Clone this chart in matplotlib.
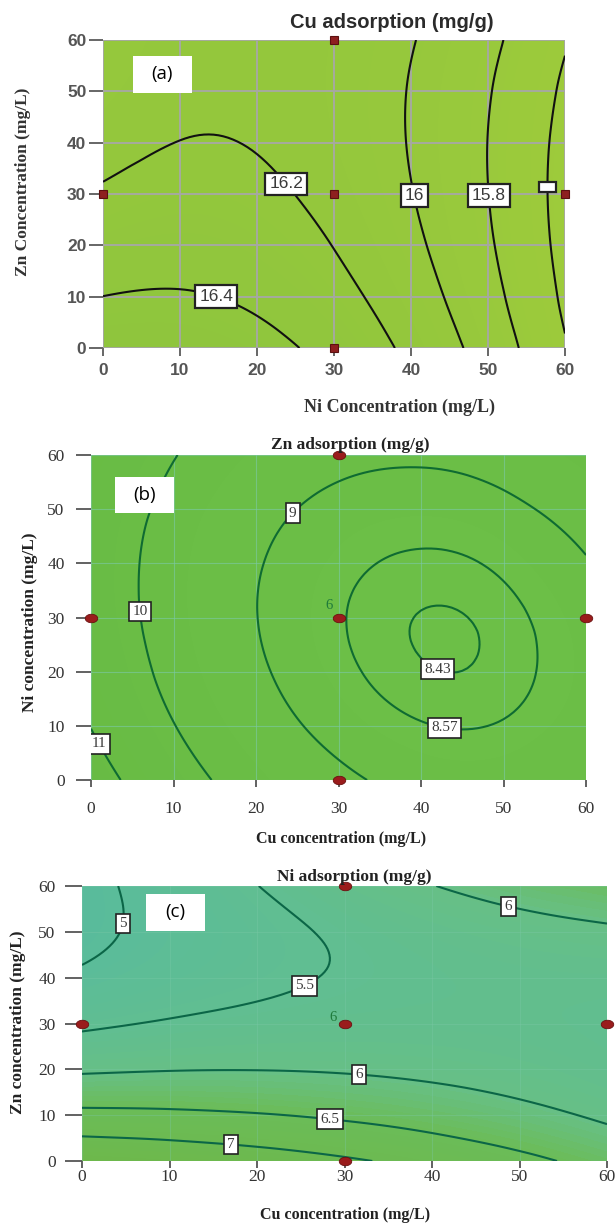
import numpy as np
import matplotlib
matplotlib.use("Agg")
import matplotlib.pyplot as plt
import matplotlib.tri as mtri
from matplotlib.colors import LinearSegmentedColormap
from matplotlib.path import Path
from matplotlib.patches import Rectangle

# ---- response-surface values on the 0..60 mg/L design grid (rows: y = 60 -> 0) ----
conc = [0, 10, 20, 30, 40, 50, 60]
ticks = [0, 10, 20, 30, 40, 50, 60]

cu_adsorption = [
    [16.071, 16.146, 16.161, 16.115, 16.009, 15.842, 15.614],
    [16.102, 16.166, 16.168, 16.110, 15.991, 15.811, 15.571],
    [16.151, 16.202, 16.192, 16.121, 15.990, 15.798, 15.545],
    [16.217, 16.255, 16.233, 16.150, 16.006, 15.802, 15.536],
    [16.300, 16.326, 16.291, 16.196, 16.039, 15.822, 15.545],
    [16.401, 16.414, 16.367, 16.259, 16.090, 15.860, 15.570],
    [16.518, 16.519, 16.459, 16.339, 16.157, 15.916, 15.613],
]
zn_adsorption = [
    [10.832, 10.034, 9.477, 9.161, 9.085, 9.251, 9.657],
    [10.620, 9.790, 9.200, 8.852, 8.744, 8.877, 9.251],
    [10.529, 9.667, 9.045, 8.664, 8.524, 8.625, 8.966],
    [10.560, 9.664, 9.010, 8.597, 8.424, 8.493, 8.802],
    [10.710, 9.783, 9.096, 8.651, 8.446, 8.482, 8.759],
    [10.982, 10.022, 9.303, 8.825, 8.588, 8.592, 8.836],
    [11.375, 10.382, 9.631, 9.120, 8.851, 8.822, 8.985],
]
ni_adsorption = [
    [4.862, 5.195, 5.494, 5.759, 5.990, 6.187, 6.349],
    [4.883, 5.144, 5.370, 5.563, 5.721, 5.845, 5.935],
    [5.070, 5.258, 5.412, 5.532, 5.617, 5.669, 5.686],
    [5.422, 5.538, 5.619, 5.666, 5.679, 5.657, 5.602],
    [5.940, 5.982, 5.991, 5.965, 5.906, 5.812, 5.683],
    [6.622, 6.592, 6.528, 6.430, 6.298, 6.131, 5.930],
    [7.470, 7.367, 7.231, 7.060, 6.855, 6.616, 6.342],
]

cu_levels = [15.6, 15.8, 16.0, 16.2, 16.4]
cu_labels = {15.6: "       ", 15.8: "15.8", 16.0: "16", 16.2: "16.2", 16.4: "16.4"}
zn_levels = [8.43, 8.57, 9, 10, 11]
zn_labels = {8.43: "8.43", 8.57: "8.57", 9: "9", 10: "10", 11: "11"}
ni_levels = [5, 5.5, 6, 6.5, 7]
ni_labels = {5: "5", 5.5: "5.5", 6: "6", 6.5: "6.5", 7: "7"}

# design points (face-centred design) and centre-point replicate count
design_x = [0, 30, 60, 30, 30]
design_y = [30, 30, 30, 0, 60]
centre_runs = "6"

W, H = 615, 1224
fig = plt.figure(figsize=(W / 100, H / 100), dpi=100)


def px_axes(left, top, right, bottom):
    return fig.add_axes([left / W, 1 - bottom / H, (right - left) / W, (bottom - top) / H])


def ftext(x, y, s, **kw):
    fig.text(x / W, 1 - y / H, s, ha="center", va="center", **kw)


def panel_tag(left, top, right, bottom, tag):
    fig.add_artist(Rectangle((left / W, 1 - bottom / H), (right - left) / W, (bottom - top) / H,
                             transform=fig.transFigure, facecolor="white", edgecolor="none", zorder=10))
    fig.text((left + right) / 2 / W, 1 - (top + bottom) / 2 / H, tag, ha="center", va="center",
             family="Open Sans", fontsize=13.5, color="black", zorder=11)


def refined(table):
    gx, gy = np.meshgrid(np.array(conc, float), np.array(conc[::-1], float))
    z = np.array(table, float)
    tri = mtri.Triangulation(gx.ravel(), gy.ravel())
    return mtri.UniformTriRefiner(tri).refine_field(z.ravel(), subdiv=4)


ellipse = Path(np.column_stack([np.cos(np.linspace(0, 2 * np.pi, 40)),
                                0.68 * np.sin(np.linspace(0, 2 * np.pi, 40))]))


def draw_panel(ax, table, levels, labels, cmap, line_color, lw, manual, label_font, box_lw,
               label_size, fill_range):
    tri_f, z_f = refined(table)
    ax.set_xlim(0, 60)
    ax.set_ylim(0, 60)
    ax.tricontourf(tri_f, z_f, levels=np.linspace(fill_range[0], fill_range[1], 40),
                   cmap=cmap, extend="both")
    cs = ax.tricontour(tri_f, z_f, levels=levels, colors=line_color, linewidths=lw)
    texts = ax.clabel(cs, levels, inline=False, fmt=labels, manual=manual,
                      fontsize=label_size, colors="#3a3a3a")
    for t in texts:
        t.set_rotation(0)
        t.set_family(label_font)
        t.set_bbox(dict(boxstyle="square,pad=0.22", facecolor="white",
                        edgecolor="#222222", linewidth=box_lw))
        t.set_zorder(6)
    for sp in ax.spines.values():
        sp.set_visible(False)
    ax.set_xticks(ticks)
    ax.set_yticks(ticks)
    return texts


# ---------------- (a) Cu adsorption ----------------
cmap_a = LinearSegmentedColormap.from_list("cu", ["#9ecb3b", "#96c83c", "#8ec53d"])
ax_a = px_axes(103, 40, 565, 348)
texts_a = draw_panel(ax_a, cu_adsorption, cu_levels, cu_labels, cmap_a, "#111111", 1.5,
                     [(14.8, 10.5), (23.8, 32), (39.5, 29.4), (50.5, 29.8), (57.6, 31.3)],
                     "Liberation Sans", 1.6, 12.5, (15.5, 16.55))
for t in texts_a:
    if t.get_text().strip() == "":
        t.set_fontsize(5)
ax_a.grid(True, color="#a7a7a7", linewidth=1.3)
ax_a.tick_params(axis="both", colors="#666666", width=1.4, labelcolor="#555555")
ax_a.tick_params(axis="y", length=10, pad=2)
ax_a.tick_params(axis="x", length=6, pad=5)
for lab in ax_a.get_xticklabels() + ax_a.get_yticklabels():
    lab.set_family("Liberation Sans")
    lab.set_fontweight("bold")
    lab.set_fontsize(12.5)
ax_a.plot(design_x, design_y, linestyle="none", marker="s", ms=5.5, mfc="#8e1f1f",
          mec="#5c1010", mew=0.8, clip_on=False, zorder=7)
ftext(392, 23, "Cu adsorption (mg/g)", family="Liberation Sans", fontweight="bold",
      fontsize=14.5, color="#2b2b2b")
ftext(399, 407, "Ni Concentration (mg/L)", family="Liberation Serif", fontweight="bold",
      fontsize=13, color="#333333")
ftext(23, 182, "Zn Concentration (mg/L)", family="Liberation Serif", fontweight="bold",
      fontsize=12.5, color="#333333", rotation=90)
panel_tag(133, 56, 192, 93, "(a)")

# ---------------- (b) Zn adsorption ----------------
cmap_b = LinearSegmentedColormap.from_list("zn", ["#6cbf47", "#6abd45", "#68bb44"])
ax_b = px_axes(91, 455, 586, 780)
draw_panel(ax_b, zn_adsorption, zn_levels, zn_labels, cmap_b, "#0f6b32", 1.5,
           [(1.5, 7.1), (5.9, 31.1), (24.1, 49.8), (42.1, 21.0), (42.9, 10.0)],
           "Liberation Serif", 1.2, 11, (8.3, 11.5))
ax_b.grid(True, color="#7cc9a8", linewidth=0.8, alpha=0.6)
ax_b.tick_params(axis="both", colors="#555555", width=1.3, labelcolor="#333333")
ax_b.tick_params(axis="y", length=11, pad=8)
ax_b.tick_params(axis="x", length=5, pad=10)
for lab in ax_b.get_xticklabels() + ax_b.get_yticklabels():
    lab.set_family("Liberation Serif")
    lab.set_fontsize(12.5)
ax_b.plot(design_x, design_y, linestyle="none", marker=ellipse, ms=9, mfc="#9a1c1c",
          mec="#6a1010", mew=0.6, clip_on=False, zorder=7)
ax_b.text(28.9, 32.3, centre_runs, family="Liberation Serif", fontsize=10.5,
          color="#1e7a3a", ha="center", va="center", zorder=7)
ftext(350, 445, "Zn adsorption (mg/g)", family="Liberation Serif", fontweight="bold",
      fontsize=12.5, color="#222222")
ftext(341, 839, "Cu concentration (mg/L)", family="Liberation Serif", fontweight="bold",
      fontsize=11.5, color="#222222")
ftext(30, 622, "Ni concentration (mg/L)", family="Liberation Serif", fontweight="bold",
      fontsize=12.5, color="#222222", rotation=90)
panel_tag(115, 477, 174, 513, "(b)")

# ---------------- (c) Ni adsorption ----------------
cmap_c = LinearSegmentedColormap.from_list(
    "ni", [(0.0, "#58bb9d"), (0.28, "#61be90"), (0.45, "#67bf85"),
           (0.52, "#69be72"), (0.62, "#6bbc58"), (1.0, "#6db84b")])
ax_c = px_axes(82, 886, 607, 1161)
draw_panel(ax_c, ni_adsorption, ni_levels, ni_labels, cmap_c, "#0b6647", 1.5,
           [(4.5, 51.9), (25.0, 39.9), (48.9, 56.8), (31.7, 20.7), (28.4, 10.8), (17.1, 5.5)],
           "Liberation Serif", 1.2, 11, (4.8, 7.5))
ax_c.grid(True, color="#7cc9a8", linewidth=0.8, alpha=0.35)
ax_c.tick_params(axis="both", colors="#555555", width=1.3, labelcolor="#333333")
ax_c.tick_params(axis="y", length=12, pad=7)
ax_c.tick_params(axis="x", length=5, pad=1)
for lab in ax_c.get_xticklabels() + ax_c.get_yticklabels():
    lab.set_family("Liberation Serif")
    lab.set_fontsize(12.5)
ax_c.plot(design_x, design_y, linestyle="none", marker=ellipse, ms=9, mfc="#9a1c1c",
          mec="#6a1010", mew=0.6, clip_on=False, zorder=7)
ax_c.text(28.7, 31.3, centre_runs, family="Liberation Serif", fontsize=10.5,
          color="#1e7a3a", ha="center", va="center", zorder=7)
ftext(354, 877, "Ni adsorption (mg/g)", family="Liberation Serif", fontweight="bold",
      fontsize=12.5, color="#222222")
ftext(345, 1215, "Cu concentration (mg/L)", family="Liberation Serif", fontweight="bold",
      fontsize=11.5, color="#222222")
ftext(18, 1022, "Zn concentration (mg/L)", family="Liberation Serif", fontweight="bold",
      fontsize=12.5, color="#222222", rotation=90)
panel_tag(146, 894, 205, 931, "(c)")

fig.savefig("out.png", dpi=100)
